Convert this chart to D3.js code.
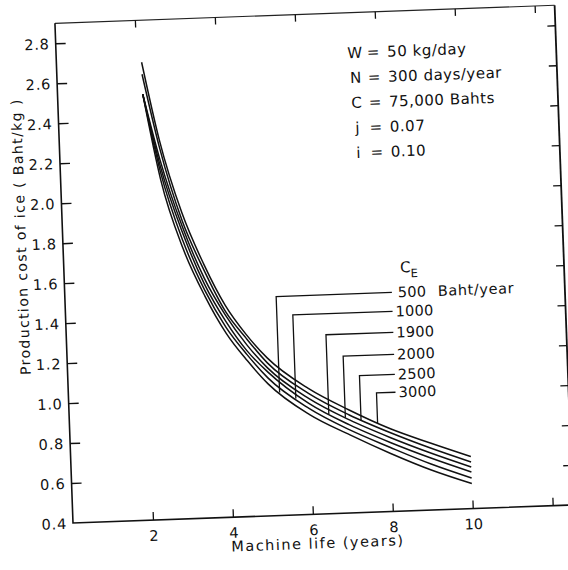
<!DOCTYPE html>
<html>
<head>
<meta charset="utf-8">
<script src="https://cdn.jsdelivr.net/npm/d3@7"></script>
<style>
  html, body { margin: 0; padding: 0; background: #fff; }
  svg text { font-family: "DejaVu Sans", sans-serif; fill: #111; }
</style>
</head>
<body>
<svg id="chart" width="568" height="570"></svg>
<script>
// ---- data ----
const xTicks = [2, 4, 6, 8, 10, 12];
const xTickLabels = ["2", "4", "6", "8", "10", ""];
const yTicks = [0.4, 0.6, 0.8, 1.0, 1.2, 1.4, 1.6, 1.8, 2.0, 2.2, 2.4, 2.6, 2.8];
const yTickLabels = ["0.4", "0.6", "0.8", "1.0", "1.2", "1.4", "1.6", "1.8", "2.0", "2.2", "2.4", "2.6", "2.8"];

const machineLife = [2.13, 2.5, 3, 3.5, 4, 4.5, 5, 6, 7, 8, 9, 10];
const costCE500  = [2.53, 2.10, 1.75, 1.51, 1.32, 1.18, 1.06, 0.90, 0.79, 0.69, 0.60, 0.525];
const costCE1000 = [2.53, 2.14, 1.79, 1.54, 1.35, 1.21, 1.09, 0.93, 0.815, 0.72, 0.63, 0.553];
const costCE1900 = [2.53, 2.17, 1.83, 1.57, 1.38, 1.23, 1.12, 0.955, 0.84, 0.745, 0.66, 0.583];
const costCE2000 = [2.53, 2.20, 1.86, 1.60, 1.41, 1.26, 1.14, 0.98, 0.865, 0.77, 0.685, 0.608];
const costCE2500 = [2.63, 2.26, 1.89, 1.64, 1.43, 1.29, 1.165, 1.005, 0.89, 0.795, 0.71, 0.633];
const costCE3000 = [2.69, 2.30, 1.93, 1.67, 1.46, 1.31, 1.19, 1.03, 0.915, 0.815, 0.735, 0.66];

const ceLabels = ["500", "1000", "1900", "2000", "2500", "3000"];
const ceSeries = [costCE500, costCE1000, costCE1900, costCE2000, costCE2500, costCE3000];
const leaderX = [5.28, 5.68, 6.49, 6.9, 7.29, 7.7];      // where each leader meets its curve
const leaderLabelY = [1.495, 1.40, 1.295, 1.185, 1.085, 0.995]; // label row levels

const paramLines = [
  ["W", "50 kg/day"],
  ["N", "300 days/year"],
  ["C", "75,000 Bahts"],
  ["j", "0.07"],
  ["i", "0.10"]
];

// ---- layout ----
const W = 500, H = 500;
const svg = d3.select("#chart");
const g = svg.append("g").attr("transform", "translate(73,523) rotate(-2.07) translate(0,-500)");

const x = d3.scaleLinear().domain([0, 12.5]).range([0, W]);
const y = d3.scaleLinear().domain([0.4, 2.9]).range([H, 0]);

// frame
g.append("path").attr("d", `M0,0H${W}`).attr("stroke", "#222").attr("stroke-width", 1.1);
g.append("path").attr("d", `M0,0V${H}H${W}`).attr("fill", "none").attr("stroke", "#111").attr("stroke-width", 1.6);
g.append("path").attr("d", `M${W},0V${H}`).attr("stroke", "#111").attr("stroke-width", 1.8);

// left axis
const yAxis = d3.axisRight(y).tickValues(yTicks).tickSize(10)
  .tickFormat((d, i) => yTickLabels[i]);
const ya = g.append("g").call(yAxis);
ya.select(".domain").remove();
ya.selectAll("line").attr("stroke", "#111").attr("stroke-width", 1.4);
ya.selectAll("text").attr("x", -6).attr("text-anchor", "end")
  .attr("font-size", 14.5).attr("letter-spacing", 0.8).attr("dy", "0.36em");
ya.selectAll(".tick").filter(d => d === 0.4).select("line").remove();

// right ticks (inward)
const yr = g.append("g").attr("transform", `translate(${W},0)`)
  .call(d3.axisLeft(y).tickValues(yTicks.slice(1)).tickSize(8).tickFormat(""));
yr.select(".domain").remove();
yr.selectAll("line").attr("stroke", "#111").attr("stroke-width", 1.3);

// bottom axis
const xAxis = d3.axisTop(x).tickValues(xTicks).tickSize(8)
  .tickFormat((d, i) => xTickLabels[i]);
const xa = g.append("g").attr("transform", `translate(0,${H})`).call(xAxis);
xa.select(".domain").remove();
xa.selectAll("line").attr("stroke", "#111").attr("stroke-width", 1.3);
xa.selectAll("text").attr("y", 15.5).attr("dy", "0.36em").attr("font-size", 14.5);

// top ticks (inward)
const xt = g.append("g").call(d3.axisBottom(x).tickValues(xTicks).tickSize(7).tickFormat(""));
xt.select(".domain").remove();
xt.selectAll("line").attr("stroke", "#111").attr("stroke-width", 1.3);

// axis titles
g.append("text").attr("x", x(6.1)).attr("y", H + 29).attr("dy", "0.36em").attr("text-anchor", "middle")
  .attr("font-size", 14.5).attr("letter-spacing", 1.5).text("Machine life (years)");
g.append("text").attr("transform", `translate(-42,${y(1.84)}) rotate(-90)`)
  .attr("text-anchor", "middle").attr("dy", "0.36em").attr("font-size", 14).attr("letter-spacing", 1.4)
  .text("Production cost of ice ( Baht/kg )");

// curves
const line = d3.line().x((d, i) => x(machineLife[i])).y(d => y(d)).curve(d3.curveMonotoneX);
g.selectAll("path.curve").data(ceSeries).join("path").attr("class", "curve")
  .attr("d", line).attr("fill", "none").attr("stroke", "#111").attr("stroke-width", 1.5);

// value on a series at machine life xv (linear between read points)
function valueAt(series, xv) {
  const i = Math.max(1, d3.bisectLeft(machineLife, xv));
  const t = (xv - machineLife[i - 1]) / (machineLife[i] - machineLife[i - 1]);
  return series[i - 1] + t * (series[i] - series[i - 1]);
}

// leaders + labels
const labelU = 330;
ceSeries.forEach((s, k) => {
  const lx = x(leaderX[k]), ly = y(leaderLabelY[k]);
  g.append("path").attr("d", `M${labelU - 3},${ly}H${lx}V${y(valueAt(s, leaderX[k]))}`)
    .attr("fill", "none").attr("stroke", "#111").attr("stroke-width", 1.3);
  g.append("text").attr("x", labelU + (k === 0 ? 3 : 0)).attr("y", ly).attr("dy", "0.36em")
    .attr("font-size", 14.5).attr("letter-spacing", 0.3).text(ceLabels[k]);
});
g.append("text").attr("x", 373).attr("y", y(leaderLabelY[0])).attr("dy", "0.36em")
  .attr("font-size", 14.5).attr("letter-spacing", 0.6).text("Baht/year");
const ce = g.append("text").attr("x", 336).attr("y", y(1.62)).attr("dy", "0.36em").attr("font-size", 15);
ce.append("tspan").text("C");
ce.append("tspan").attr("font-size", 11.5).attr("dy", "0.45em").text("E");

// parameter block
paramLines.forEach((p, k) => {
  const yy = y(2.7) + k * 25;
  g.append("text").attr("x", 298.5).attr("y", yy).attr("dy", "0.36em").attr("text-anchor", "middle")
    .attr("font-size", 15).text(p[0]);
  g.append("text").attr("x", 317).attr("y", yy).attr("dy", "0.36em").attr("text-anchor", "middle")
    .attr("font-size", 15).text("=");
  g.append("text").attr("x", 331).attr("y", yy).attr("dy", "0.36em")
    .attr("font-size", 15).attr("letter-spacing", 0.5).text(p[1]);
});
</script>
</body>
</html>
